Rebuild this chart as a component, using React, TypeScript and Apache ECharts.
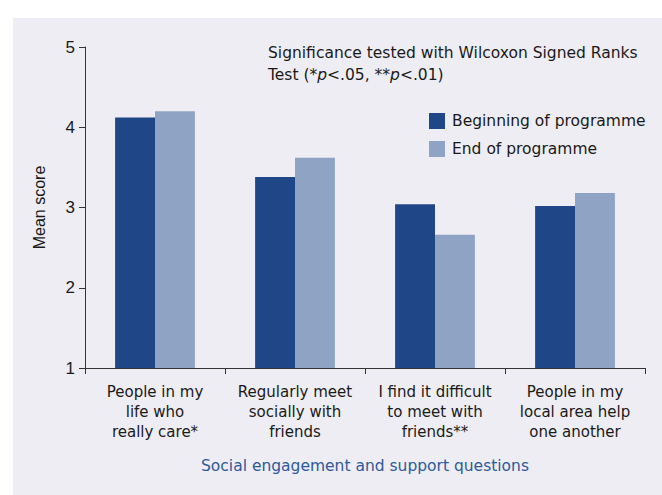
import React, { useEffect, useRef } from "react";
import * as echarts from "echarts";

const categories = [
  "People in my\nlife who\nreally care*",
  "Regularly meet\nsocially with\nfriends",
  "I find it difficult\nto meet with\nfriends**",
  "People in my\nlocal area help\none another",
];
const beginning = [4.12, 3.38, 3.04, 3.02];
const end = [4.2, 3.62, 2.66, 3.18];
const seriesNames = ["Beginning of programme", "End of programme"];
const yTicks = { min: 1, max: 5, interval: 1 };

const FONT = "'DejaVu Sans', 'Noto Sans', sans-serif";
const ARIAL = "'Liberation Sans', Arial, sans-serif";

export default function App() {
  const ref = useRef<HTMLDivElement>(null);
  useEffect(() => {
    const chart = echarts.init(ref.current!, null, { renderer: "svg" });
    chart.setOption({
      animation: false,
      backgroundColor: "#ffffff",
      graphic: [
        {
          type: "rect",
          silent: true,
          z: -10,
          shape: { x: 13, y: 18, width: 649, height: 477 },
          style: { fill: "#eeedf3" },
        },
      ],
      title: {
        left: 263,
        top: 37,
        text: "Significance tested with Wilcoxon Signed Ranks\nTest (*{i|p}<.05, **{i|p}<.01)",
        textStyle: {
          fontFamily: FONT,
          fontWeight: "normal",
          fontSize: 15.5,
          color: "#1a1a1a",
          lineHeight: 22,
          rich: {
            i: { fontStyle: "italic", fontFamily: FONT, fontSize: 15.5, color: "#1a1a1a", lineHeight: 22 },
          },
        },
      },
      legend: {
        orient: "vertical",
        left: 424,
        top: 108,
        itemWidth: 16,
        itemHeight: 16,
        itemGap: 12,
        icon: "rect",
        textStyle: { fontFamily: FONT, fontSize: 15.5, color: "#1a1a1a", padding: [0, 0, 0, 2] },
        data: seriesNames,
      },
      grid: { left: 85, right: 17, top: 47, bottom: 127, containLabel: false },
      xAxis: {
        type: "category",
        data: categories,
        name: "Social engagement and support questions",
        nameLocation: "middle",
        nameGap: 90,
        nameTextStyle: { fontFamily: FONT, fontSize: 15.5, color: "#2d5a9b" },
        axisLine: { lineStyle: { color: "#333333", width: 1 } },
        axisTick: { show: true, length: 6, lineStyle: { color: "#333333" } },
        axisLabel: {
          fontFamily: FONT,
          fontSize: 15,
          color: "#1a1a1a",
          lineHeight: 20,
          margin: 14,
          interval: 0,
        },
      },
      yAxis: {
        type: "value",
        min: yTicks.min,
        max: yTicks.max,
        interval: yTicks.interval,
        name: "Mean score",
        nameLocation: "middle",
        nameGap: 38,
        nameTextStyle: { fontFamily: ARIAL, fontSize: 16, color: "#1a1a1a" },
        axisLine: { show: true, lineStyle: { color: "#333333", width: 1 } },
        axisTick: { show: true, length: 6, lineStyle: { color: "#333333" } },
        splitLine: { show: false },
        axisLabel: {
          fontFamily: ARIAL,
          fontSize: 17,
          color: "#1a1a1a",
          margin: 10,
        },
      },
      series: [
        {
          name: seriesNames[0],
          type: "bar",
          data: beginning,
          barGap: "0%",
          barCategoryGap: "43%",
          itemStyle: { color: "#1f4788" },
        },
        {
          name: seriesNames[1],
          type: "bar",
          data: end,
          barGap: "0%",
          barCategoryGap: "43%",
          itemStyle: { color: "#8fa4c4" },
        },
      ],
    });
    return () => chart.dispose();
  }, []);
  return (
    <div
      ref={ref}
      style={{ position: "fixed", left: 0, top: 0, width: 662, height: 495 }}
    />
  );
}
